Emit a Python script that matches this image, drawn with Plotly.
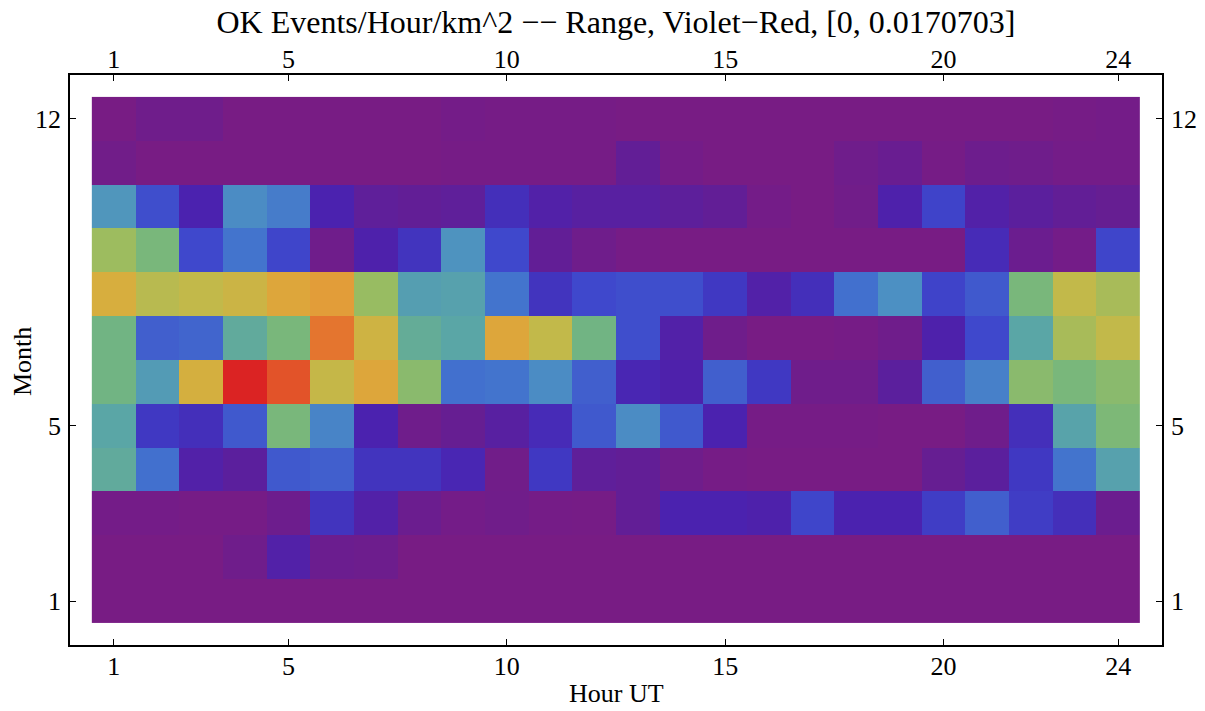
import plotly.graph_objects as go

# Hours (UT) and months
hours = list(range(1, 25))
months = list(range(1, 13))

ZMAX = 0.0170703  # top of colour range

# Values as fraction of ZMAX, one list per month (hours 1..24)
m01 = [0.0] * 24
m02 = [0, 0, 0, 0.04, 0.15, 0.06, 0.05, 0, 0, 0, 0, 0, 0, 0, 0, 0, 0, 0, 0, 0, 0, 0, 0, 0]
m03 = [0.02, 0.02, 0.01, 0.01, 0.05, 0.21, 0.15, 0.06, 0.02, 0.035, 0.015, 0.01,
       0.10, 0.17, 0.17, 0.16, 0.245, 0.17, 0.17, 0.23, 0.29, 0.23, 0.20, 0.06]
m04 = [0.50, 0.32, 0.15, 0.12, 0.28, 0.29, 0.21, 0.21, 0.18, 0.03, 0.22, 0.11,
       0.10, 0.04, 0.01, 0, 0, 0, 0, 0.08, 0.12, 0.22, 0.33, 0.46]
m05 = [0.48, 0.22, 0.20, 0.28, 0.57, 0.37, 0.17, 0.04, 0.08, 0.13, 0.19, 0.28,
       0.39, 0.28, 0.17, 0.01, 0.01, 0.01, 0, 0, 0.04, 0.20, 0.47, 0.58]
m06 = [0.55, 0.44, 0.78, 1.0, 0.94, 0.73, 0.82, 0.61, 0.32, 0.33, 0.39, 0.29,
       0.18, 0.16, 0.29, 0.22, 0.04, 0.04, 0.12, 0.29, 0.36, 0.61, 0.57, 0.61]
m07 = [0.55, 0.29, 0.30, 0.50, 0.57, 0.90, 0.76, 0.51, 0.48, 0.82, 0.72, 0.55,
       0.26, 0.15, 0.04, 0, 0, 0.01, 0.04, 0.16, 0.25, 0.48, 0.67, 0.72]
m08 = [0.79, 0.70, 0.72, 0.75, 0.82, 0.85, 0.64, 0.45, 0.46, 0.33, 0.21, 0.25,
       0.26, 0.26, 0.22, 0.15, 0.20, 0.32, 0.40, 0.24, 0.28, 0.57, 0.72, 0.67]
m09 = [0.65, 0.57, 0.25, 0.33, 0.245, 0.04, 0.16, 0.21, 0.41, 0.25, 0.10, 0.04,
       0.01, 0, 0, 0, 0, 0, 0, 0, 0.19, 0.06, 0.02, 0.245]
m10 = [0.42, 0.26, 0.17, 0.39, 0.35, 0.17, 0.11, 0.10, 0.11, 0.20, 0.15, 0.13,
       0.13, 0.115, 0.10, 0.02, 0, 0.03, 0.16, 0.24, 0.15, 0.12, 0.10, 0.08]
m11 = [0.03, 0, 0, 0, 0, 0, 0, 0, 0.01, 0.01, 0.01, 0.01,
       0.10, 0.02, 0, 0, 0, 0.04, 0.07, 0.01, 0.05, 0.04, 0.02, 0.02]
m12 = [0, 0.04, 0.04, 0, 0, 0, 0, 0, 0.02, 0.01, 0.01, 0.01,
       0, 0, 0, 0, 0, 0, 0, 0, 0, 0, 0.01, 0.02]

rows = [m01, m02, m03, m04, m05, m06, m07, m08, m09, m10, m11, m12]
z = [[v * ZMAX for v in r] for r in rows]

x_ticks = [1, 5, 10, 15, 20, 24]
y_ticks = [1, 5, 12]

colorscale = [
    [0.00, "#781C84"],
    [0.10, "#621E96"],
    [0.17, "#4B22AF"],
    [0.22, "#4038C2"],
    [0.25, "#3F48CC"],
    [0.32, "#4270CE"],
    [0.40, "#4C90C3"],
    [0.48, "#5AA6A6"],
    [0.56, "#74B67E"],
    [0.64, "#98BC62"],
    [0.72, "#C2B94A"],
    [0.80, "#DAAC3C"],
    [0.86, "#E39A38"],
    [0.92, "#E4632B"],
    [1.00, "#DB2323"],
]

FONT = "Liberation Serif"
TICKF = dict(family=FONT, size=26, color="black")
LABF = dict(family=FONT, size=26, color="black")

W, H = 1205, 711
L, R, T, B = 70, 43, 75, 66
PW, PH = W - L - R, H - T - B

fig = go.Figure()
fig.add_trace(go.Heatmap(
    x=hours, y=months, z=z, zmin=0, zmax=ZMAX,
    colorscale=colorscale, showscale=False, xgap=0, ygap=0,
))
# invisible trace to activate the top/right axes
fig.add_trace(go.Scatter(
    x=hours, y=[months[0]] * len(hours), xaxis="x2", yaxis="y2",
    mode="markers", marker=dict(opacity=0), hoverinfo="skip", showlegend=False,
))

axis_common = dict(
    showgrid=False, zeroline=False, ticks="inside", ticklen=6, tickwidth=1,
    tickcolor="black", showline=True, linecolor="black", linewidth=1.5,
    tickfont=TICKF, automargin=False,
)

fig.update_layout(
    width=W, height=H,
    paper_bgcolor="white", plot_bgcolor="white",
    margin=dict(l=L, r=R, t=T, b=B, autoexpand=False),
    title=dict(
        text="OK Events/Hour/km^2 \u2212\u2212 Range, Violet\u2212Red, [0, 0.0170703]",
        x=616 / W, xanchor="center", y=1 - 22 / H, yanchor="middle",
        font=dict(family=FONT, size=32, color="black"),
    ),
    xaxis=dict(range=[0, 25], tickvals=x_ticks, ticktext=[str(t) for t in x_ticks],
               ticklabelstandoff=-3, **axis_common),
    yaxis=dict(range=[0, 13], tickvals=y_ticks, ticktext=[str(t) for t in y_ticks],
               ticklabelstandoff=2, **axis_common),
    xaxis2=dict(range=[0, 25], tickvals=x_ticks, ticktext=[str(t) for t in x_ticks],
                overlaying="x", side="top", anchor="y2", ticklabelstandoff=-5, **axis_common),
    yaxis2=dict(range=[0, 13], tickvals=y_ticks, ticktext=[str(t) for t in y_ticks],
                overlaying="y", side="right", anchor="x2", ticklabelstandoff=2, **axis_common),
    annotations=[
        dict(text="Hour UT", xref="paper", yref="paper", x=(616 - L) / PW,
             y=-(693 - (H - B)) / PH, xanchor="center", yanchor="middle",
             showarrow=False, font=LABF),
        dict(text="Month", xref="paper", yref="paper", x=-(L - 22) / PW,
             y=((H - B) - 361) / PH, xanchor="center", yanchor="middle",
             textangle=-90, showarrow=False, font=LABF),
    ],
)

fig.write_html("out.html", config={"displayModeBar": False},
               post_script="document.body.style.margin='0px';")
